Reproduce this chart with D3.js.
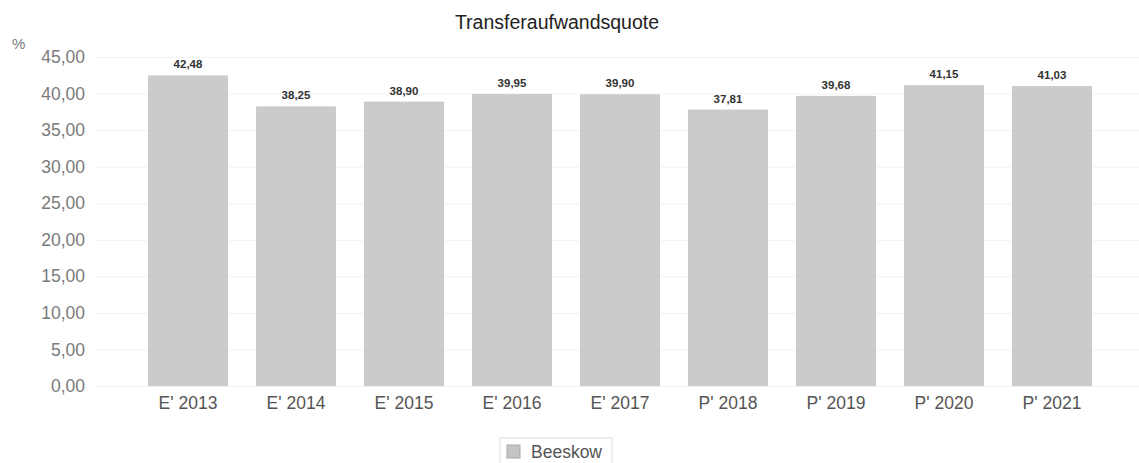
<!DOCTYPE html>
<html>
<head>
<meta charset="utf-8">
<script src="https://cdn.jsdelivr.net/npm/d3@7"></script>
<style>
  body { margin: 0; background: #fff; }
  text { font-family: "Liberation Sans", Arial, sans-serif; }
</style>
</head>
<body>
<svg id="chart" width="1139" height="463"></svg>
<script>
var categories = ["E' 2013", "E' 2014", "E' 2015", "E' 2016", "E' 2017", "P' 2018", "P' 2019", "P' 2020", "P' 2021"];
var values = [42.48, 38.25, 38.90, 39.95, 39.90, 37.81, 39.68, 41.15, 41.03];
var yTicks = [0, 5, 10, 15, 20, 25, 30, 35, 40, 45];
var seriesName = "Beeskow";
var chartTitle = "Transferaufwandsquote";

var svg = d3.select("#chart");
var fmt = function(v) { return d3.format(".2f")(v).replace(".", ","); };

var x = d3.scaleBand()
	.domain(categories)
	.range([134, 1106])
	.paddingInner(0.26)
	.paddingOuter(0.13);

var y = d3.scaleLinear()
	.domain([0, 45])
	.range([386, 57]);

// faint gridlines
svg.append("g").selectAll("line")
	.data(yTicks)
	.enter()
	.append("line")
	.attr("x1", 96)
	.attr("x2", 1139)
	.attr("y1", function(d) { return y(d) + 0.5; })
	.attr("y2", function(d) { return y(d) + 0.5; })
	.attr("stroke", "#f1f1f1");

// y axis labels
var yAxis = d3.axisLeft(y).tickValues(yTicks).tickFormat(fmt).tickSize(0).tickPadding(0);
svg.append("g")
	.attr("transform", "translate(85,0)")
	.call(yAxis)
	.call(function(g) { g.select(".domain").remove(); })
	.selectAll("text")
	.attr("font-size", 17.5)
	.attr("fill", "#7a7a7a")
	.attr("font-family", "Liberation Sans, Arial, sans-serif");

svg.append("text")
	.attr("x", 12)
	.attr("y", 49)
	.attr("font-size", 15)
	.attr("fill", "#777")
	.text("%");

// bars
svg.append("g").selectAll("rect")
	.data(values)
	.enter()
	.append("rect")
	.attr("x", function(d, i) { return x(categories[i]); })
	.attr("y", function(d) { return y(d); })
	.attr("width", x.bandwidth())
	.attr("height", function(d) { return y(0) - y(d); })
	.attr("fill", "#cbcbcb");

// value labels
svg.append("g").selectAll("text")
	.data(values)
	.enter()
	.append("text")
	.attr("x", function(d, i) { return x(categories[i]) + x.bandwidth() / 2; })
	.attr("y", function(d) { return y(d) - 7; })
	.attr("text-anchor", "middle")
	.attr("font-size", 11.5)
	.attr("font-weight", "bold")
	.attr("fill", "#333")
	.text(fmt);

// x axis labels
var xAxis = d3.axisBottom(x).tickSize(0).tickPadding(0);
svg.append("g")
	.attr("transform", "translate(0,397)")
	.call(xAxis)
	.call(function(g) { g.select(".domain").remove(); })
	.selectAll("text")
	.attr("font-size", 17.5)
	.attr("fill", "#555")
	.attr("font-family", "Liberation Sans, Arial, sans-serif");

// title
svg.append("text")
	.attr("x", 557)
	.attr("y", 29)
	.attr("text-anchor", "middle")
	.attr("font-size", 19.5)
	.attr("fill", "#222")
	.text(chartTitle);

// legend
var legend = svg.append("g").attr("transform", "translate(500,438)");
legend.append("rect")
	.attr("width", 112)
	.attr("height", 30)
	.attr("fill", "#fff")
	.attr("stroke", "#ddd");
legend.append("rect")
	.attr("x", 7)
	.attr("y", 7)
	.attr("width", 13)
	.attr("height", 13)
	.attr("fill", "#c4c4c4")
	.attr("stroke", "#aaa");
legend.append("text")
	.attr("x", 31)
	.attr("y", 20)
	.attr("font-size", 17.5)
	.attr("fill", "#555")
	.text(seriesName);
</script>
</body>
</html>
